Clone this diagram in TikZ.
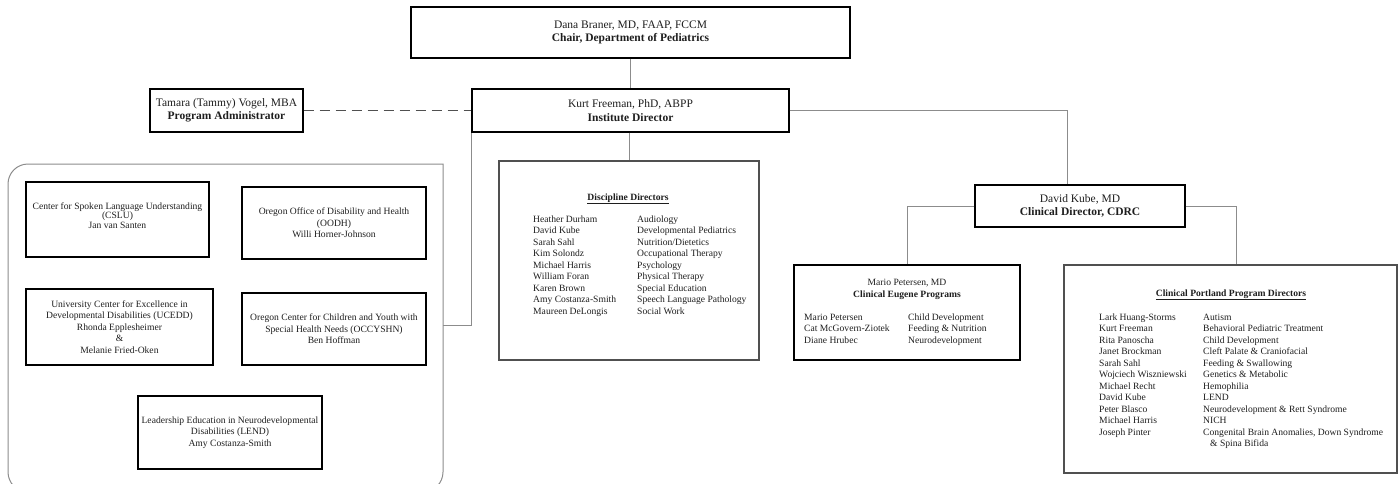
\documentclass[tikz,border=0pt]{standalone}
\usepackage{fontspec}
\setmainfont{Liberation Serif}
\definecolor{txt}{HTML}{1E1E1E}
\definecolor{lgray}{HTML}{8C8C8C}
\definecolor{bgray}{HTML}{505050}
\begin{document}
\begin{tikzpicture}[x=1pt,y=-1pt,
  mainbox/.style={draw=black, line width=1.4pt, inner sep=0pt, align=center, text=txt, font=\fontsize{11.5}{13.5}\selectfont},
  inbox/.style={draw=black, line width=1.4pt, inner sep=0pt, align=center, text=txt, font=\fontsize{9.6}{11.5}\selectfont},
  graybox/.style={draw=bgray, line width=1.1pt, inner sep=0pt},
  conn/.style={draw=lgray, line width=0.9pt},
  dashconn/.style={draw=bgray, line width=1.3pt, dash pattern=on 10pt off 6pt},
  txtnode/.style={inner sep=0pt, text=txt, font=\fontsize{9.6}{11.5}\selectfont},
]
\useasboundingbox (0,0) rectangle (1399,484);

% top level
\node[mainbox, minimum width=439pt, minimum height=51pt] (chair) at (630.5,32.5)
  {Dana Braner, MD, FAAP, FCCM\\\textbf{Chair, Department of Pediatrics}};
\node[mainbox, minimum width=317pt, minimum height=43pt] (kurt) at (630.5,110.5)
  {Kurt Freeman, PhD, ABPP\\\textbf{Institute Director}};
\node[mainbox, minimum width=153pt, minimum height=43pt] (tammy) at (226.5,110.5)
  {Tamara (Tammy) Vogel, MBA\\\textbf{Program Administrator}};
\node[mainbox, minimum width=210pt, minimum height=42pt] (david) at (1080,206)
  {David Kube, MD\\\textbf{Clinical Director, CDRC}};

% discipline directors
\node[graybox, minimum width=260pt, minimum height=199pt] (disc) at (629,260.5) {};
\node[txtnode, anchor=base, font=\fontsize{9.6}{11.5}\selectfont\bfseries] (disct) at (628,200) {\underline{Discipline Directors}};
\node[txtnode, anchor=base west] (discl) at (533,222) {%
\begin{tabular}[t]{@{}p{104pt}@{}l@{}}
Heather Durham & Audiology\\
David Kube & Developmental Pediatrics\\
Sarah Sahl & Nutrition/Dietetics\\
Kim Solondz & Occupational Therapy\\
Michael Harris & Psychology\\
William Foran & Physical Therapy\\
Karen Brown & Special Education\\
Amy Costanza-Smith & Speech Language Pathology\\
Maureen DeLongis & Social Work
\end{tabular}};

% eugene
\node[draw=black, line width=1.4pt, inner sep=0pt, minimum width=226pt, minimum height=95pt] (mario) at (907,312.5) {};
\node[txtnode, anchor=base] (mariot1) at (907,285) {Mario Petersen, MD};
\node[txtnode, anchor=base, font=\fontsize{9.6}{11.5}\selectfont\bfseries] (mariot2) at (907,297) {Clinical Eugene Programs};
\node[txtnode, anchor=base west] (mariol) at (804,320) {%
\begin{tabular}[t]{@{}p{104pt}@{}l@{}}
Mario Petersen & Child Development\\
Cat McGovern-Ziotek & Feeding \& Nutrition\\
Diane Hrubec & Neurodevelopment
\end{tabular}};

% portland
\node[graybox, minimum width=333pt, minimum height=208pt] (port) at (1230.5,369) {};
\node[txtnode, anchor=base, font=\fontsize{9.6}{11.5}\selectfont\bfseries] (portt) at (1231,296) {\underline{Clinical Portland Program Directors}};
\node[txtnode, anchor=base west] (portl) at (1099,320) {%
\begin{tabular}[t]{@{}p{104pt}@{}l@{}}
Lark Huang-Storms & Autism\\
Kurt Freeman & Behavioral Pediatric Treatment\\
Rita Panoscha & Child Development\\
Janet Brockman & Cleft Palate \& Craniofacial\\
Sarah Sahl & Feeding \& Swallowing\\
Wojciech Wiszniewski & Genetics \& Metabolic\\
Michael Recht & Hemophilia\\
David Kube & LEND\\
Peter Blasco & Neurodevelopment \& Rett Syndrome\\
Michael Harris & NICH\\
Joseph Pinter & Congenital Brain Anomalies, Down Syndrome\\
 & \hspace*{7pt}\& Spina Bifida
\end{tabular}};

% container
\draw[draw=lgray, line width=1pt, rounded corners=20pt] (443,164) -- (8,164) -- (8,492) -- (443,492) -- (443,163.5);
\coordinate (contR) at (443,325);

\node[draw=black, line width=1.4pt, inner sep=0pt, minimum width=183pt, minimum height=75pt] (cslu) at (117.5,219.5) {};
\node[txtnode, align=center, font=\fontsize{9.6}{9.7}\selectfont] (cslut) at (117.5,215.5)
  {Center for Spoken Language Understanding\\(CSLU)\\Jan van Santen};
\node[inbox, minimum width=184pt, minimum height=72pt] (oodh) at (334,223)
  {Oregon Office of Disability and Health\\(OODH)\\Willi Horner-Johnson};
\node[inbox, minimum width=187pt, minimum height=76pt] (ucedd) at (119.5,327)
  {University Center for Excellence in\\Developmental Disabilities (UCEDD)\\Rhonda Epplesheimer\\\&\\Melanie Fried-Oken};
\node[inbox, minimum width=184pt, minimum height=72pt] (occ) at (334,329)
  {Oregon Center for Children and Youth with\\Special Health Needs (OCCYSHN)\\Ben Hoffman};
\node[inbox, minimum width=184pt, minimum height=73pt] (lend) at (230,432.5)
  {Leadership Education in Neurodevelopmental\\Disabilities (LEND)\\Amy Costanza-Smith};

% connectors
\draw[conn] (chair.south) -- (kurt.north);
\draw[dashconn] (tammy.east) -- (kurt.west);
\draw[conn] (kurt.east) -| ([xshift=-13pt]david.north);
\draw[conn] (kurt.south -| disc.north) -- (disc.north);
\draw[conn] (kurt.south west) |- (contR);
\draw[conn] (david.west) -| (mario.north);
\draw[conn] (david.east) -| ([xshift=5.5pt]port.north);
\end{tikzpicture}
\end{document}
